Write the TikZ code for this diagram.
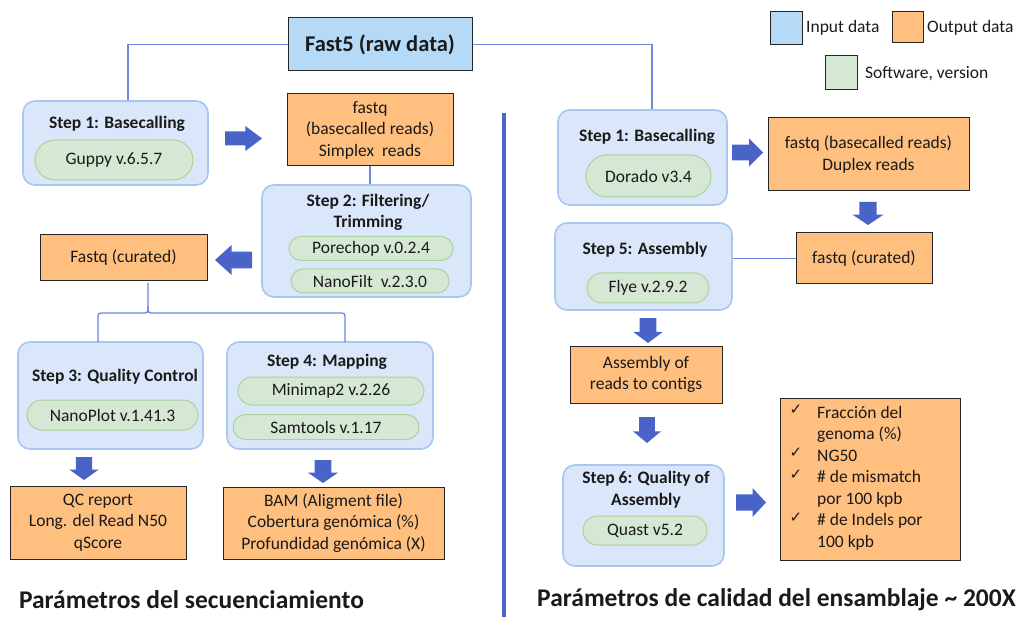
\documentclass[tikz,border=0pt]{standalone}
\usepackage{fontspec}
\setmainfont{Carlito}
\newfontfamily\dejavu{DejaVu Sans}
\usetikzlibrary{calc,shapes.misc}
\definecolor{inblue}{HTML}{B4DAF8}
\definecolor{outorange}{HTML}{FFBF7F}
\definecolor{stepfill}{HTML}{DAE7FB}
\definecolor{stepborder}{HTML}{A9C6F0}
\definecolor{swfill}{HTML}{D5E8D4}
\definecolor{swborder}{HTML}{A9D39B}
\definecolor{arrowc}{HTML}{4A63C8}
\definecolor{connc}{HTML}{6F88DC}
\definecolor{txtc}{HTML}{1A1A1A}
\newcommand{\FatArrow}[4]{%
  \begin{scope}[shift={#1}, rotate=#2]
    \fill[arrowc] ({-#3/2},{-0.28*#4}) -- ({#3/2-0.45*#3},{-0.28*#4}) -- ({#3/2-0.45*#3},{-#4/2})
      -- ({#3/2},0) -- ({#3/2-0.45*#3},{#4/2}) -- ({#3/2-0.45*#3},{0.28*#4}) -- ({-#3/2},{0.28*#4}) -- cycle;
  \end{scope}}
\tikzset{
  body/.style={font=\fontsize{17.5}{21.5}\selectfont, text=txtc, inner sep=0pt, align=center},
  bold/.style={font=\bfseries\fontsize{17.5}{21.5}\selectfont, text=txtc, inner sep=0pt, align=center},
  stepbox/.style={draw=stepborder, fill=stepfill, line width=1.6pt, rounded corners=12pt, inner sep=0pt},
  swbox/.style={body, rounded rectangle, draw=swborder, fill=swfill, line width=1pt},
  outbox/.style={body, draw=black!85, fill=outorange, line width=1pt},
  inbox/.style={draw=black!85, fill=inblue, line width=1pt, inner sep=0pt},
  conn/.style={draw=connc, line width=1.3pt},
  bigtitle/.style={font=\bfseries\fontsize{25.5}{29}\selectfont, text=txtc, inner sep=0pt},
  checkmark/.style={font=\dejavu\fontsize{15}{17}\selectfont, text=txtc, inner sep=0pt},
}
\begin{document}
\begin{tikzpicture}[x=1pt,y=-1pt]
\useasboundingbox (0,0) rectangle (1019,617);
\fill[white] (0,0) rectangle (1019,617);

% ---------- legend ----------
\node[inbox, minimum width=32, minimum height=33] (legin) at (786,28.5) {};
\node[body, anchor=west] (legintxt) at (806,28) {Input data};
\node[inbox, fill=outorange, minimum width=31, minimum height=31] (legout) at (907.5,27.5) {};
\node[body, anchor=west] (legouttxt) at (927,28) {Output data};
\node[inbox, fill=swfill, minimum width=32, minimum height=34] (legsw) at (841,73) {};
\node[body, anchor=west] (legswtxt) at (865,74) {Software, version};

% ---------- top ----------
\node[inbox, minimum width=184, minimum height=53, font=\bfseries\fontsize{22.5}{26}\selectfont, text=txtc] (fast5) at (380,44.5) {Fast5 (raw data)};

% ---------- divider ----------
\draw[arrowc, line width=4pt] (503.5,113) -- (503.5,617);

% ---------- left column ----------
\node[stepbox, minimum width=185, minimum height=84] (s1L) at (115.5,143) {};
\node[bold] (s1Lt) at (117,124) {Step 1: Basecalling};
\node[swbox, minimum width=158, minimum height=40] (guppy) at (114,160) {Guppy v.6.5.7};

\node[outbox, minimum width=166, minimum height=72] (fq1) at (370,130) {fastq\\(basecalled reads)\\Simplex\ \ reads};

\node[stepbox, minimum width=209, minimum height=112] (s2) at (366.5,241) {};
\node[bold] (s2t) at (368,212.5) {Step 2: Filtering/\\Trimming};
\node[swbox, minimum width=164, minimum height=24] (pore) at (371,248.5) {Porechop v.0.2.4};
\node[swbox, minimum width=158, minimum height=24] (nanof) at (370,281) {NanoFilt\ \ v.2.3.0};

\node[outbox, minimum width=167, minimum height=46] (fqc1) at (123.5,258) {Fastq (curated)};

\node[stepbox, minimum width=185, minimum height=107] (s3) at (110.5,395.5) {};
\node[bold] (s3t) at (115,377) {Step 3: Quality Control};
\node[swbox, minimum width=171, minimum height=30] (nplot) at (112.5,415) {NanoPlot v.1.41.3};

\node[stepbox, minimum width=206, minimum height=107] (s4) at (330,395.5) {};
\node[bold] (s4t) at (327,362) {Step 4: Mapping};
\node[swbox, minimum width=186, minimum height=28] (mmap) at (331,391) {Minimap2 v.2.26};
\node[swbox, minimum width=186, minimum height=25] (samt) at (326,427) {Samtools v.1.17};

\node[outbox, minimum width=176, minimum height=73] (qc) at (98,522.5) {QC report\\Long. del Read N50\\qScore};
\node[outbox, minimum width=221, minimum height=72] (bam) at (333.5,523) {BAM (Aligment file)\\Cobertura genómica (\%)\\Profundidad genómica (X)};

\node[bigtitle] (titL) at (191.5,600) {Parámetros del secuenciamiento};

% ---------- right column ----------
\node[stepbox, minimum width=169, minimum height=95] (s1R) at (642.5,157.5) {};
\node[bold] (s1Rt) at (647,137) {Step 1: Basecalling};
\node[swbox, minimum width=125, minimum height=42] (dorado) at (648.5,176) {Dorado v3.4};

\node[outbox, minimum width=201, minimum height=73] (fq2) at (868.5,154.5) {fastq (basecalled reads)\\Duplex reads};
\node[outbox, minimum width=136, minimum height=51] (fqc2) at (864,258.5) {fastq (curated)};

\node[stepbox, minimum width=177, minimum height=87] (s5) at (643.5,266.5) {};
\node[bold] (s5t) at (645,250) {Step 5: Assembly};
\node[swbox, minimum width=122, minimum height=30] (flye) at (648,288) {Flye v.2.9.2};

\node[outbox, minimum width=152, minimum height=57] (asm) at (646,374.5) {Assembly of\\reads to contigs};

\node[stepbox, minimum width=161, minimum height=101] (s6) at (643.5,515.5) {};
\node[bold] (s6t) at (646,489.5) {Step 6: Quality of\\Assembly};
\node[swbox, minimum width=124, minimum height=29] (quast) at (645,530.5) {Quast v5.2};

\node[outbox, minimum width=180, minimum height=162] (chk) at (870,479) {};
\foreach \yy/\nm in {410/c1,453/c2,475/c3,518/c4}
  \node[checkmark] (\nm) at (796,\yy) {✓};
\node[body, align=left, anchor=north west] (i1) at (817,406) {Fracción del\\genoma (\%)\\NG50\\\# de mismatch\\por 100 kpb\\\# de Indels por\\100 kpb};

\node[bigtitle] (titR) at (776.5,600) {Parámetros de calidad del ensamblaje \textasciitilde{} 200X};

% ---------- connectors ----------
\draw[conn] (fast5.west) -| ($(s1L.north)+(12.5,0)$);
\draw[conn] (fast5.east) -| ($(s1R.north)+(9.5,0)$);
\draw[conn] (fq1.south) -- (fq1.south |- s2.north);
\coordinate (bL) at (98,342);
\coordinate (bR) at (345,342);
\draw[conn] (bL) -- (98,319) .. controls (98,313) .. (104,313) -- (142,313) .. controls (148,313) .. (148,306) -- (148,283);
\draw[conn] (148,306) .. controls (148,313) .. (154,313) -- (339,313) .. controls (345,313) .. (345,319) -- (bR);
\draw[conn] (fqc2.west) -- (fqc2.west -| s5.east);

% ---------- fat arrows ----------
\FatArrow{(243.5,138.5)}{0}{37}{25}
\FatArrow{(233.5,260)}{180}{37}{30}
\FatArrow{(84,468.5)}{-90}{23}{29}
\FatArrow{(323,471.5)}{-90}{23}{30}
\FatArrow{(747.5,152.5)}{0}{31}{28}
\FatArrow{(868,213.5)}{-90}{23}{31}
\FatArrow{(648,330.5)}{-90}{25}{30}
\FatArrow{(647,430)}{-90}{26}{28}
\FatArrow{(751,502.5)}{0}{30}{29}
\end{tikzpicture}
\end{document}
